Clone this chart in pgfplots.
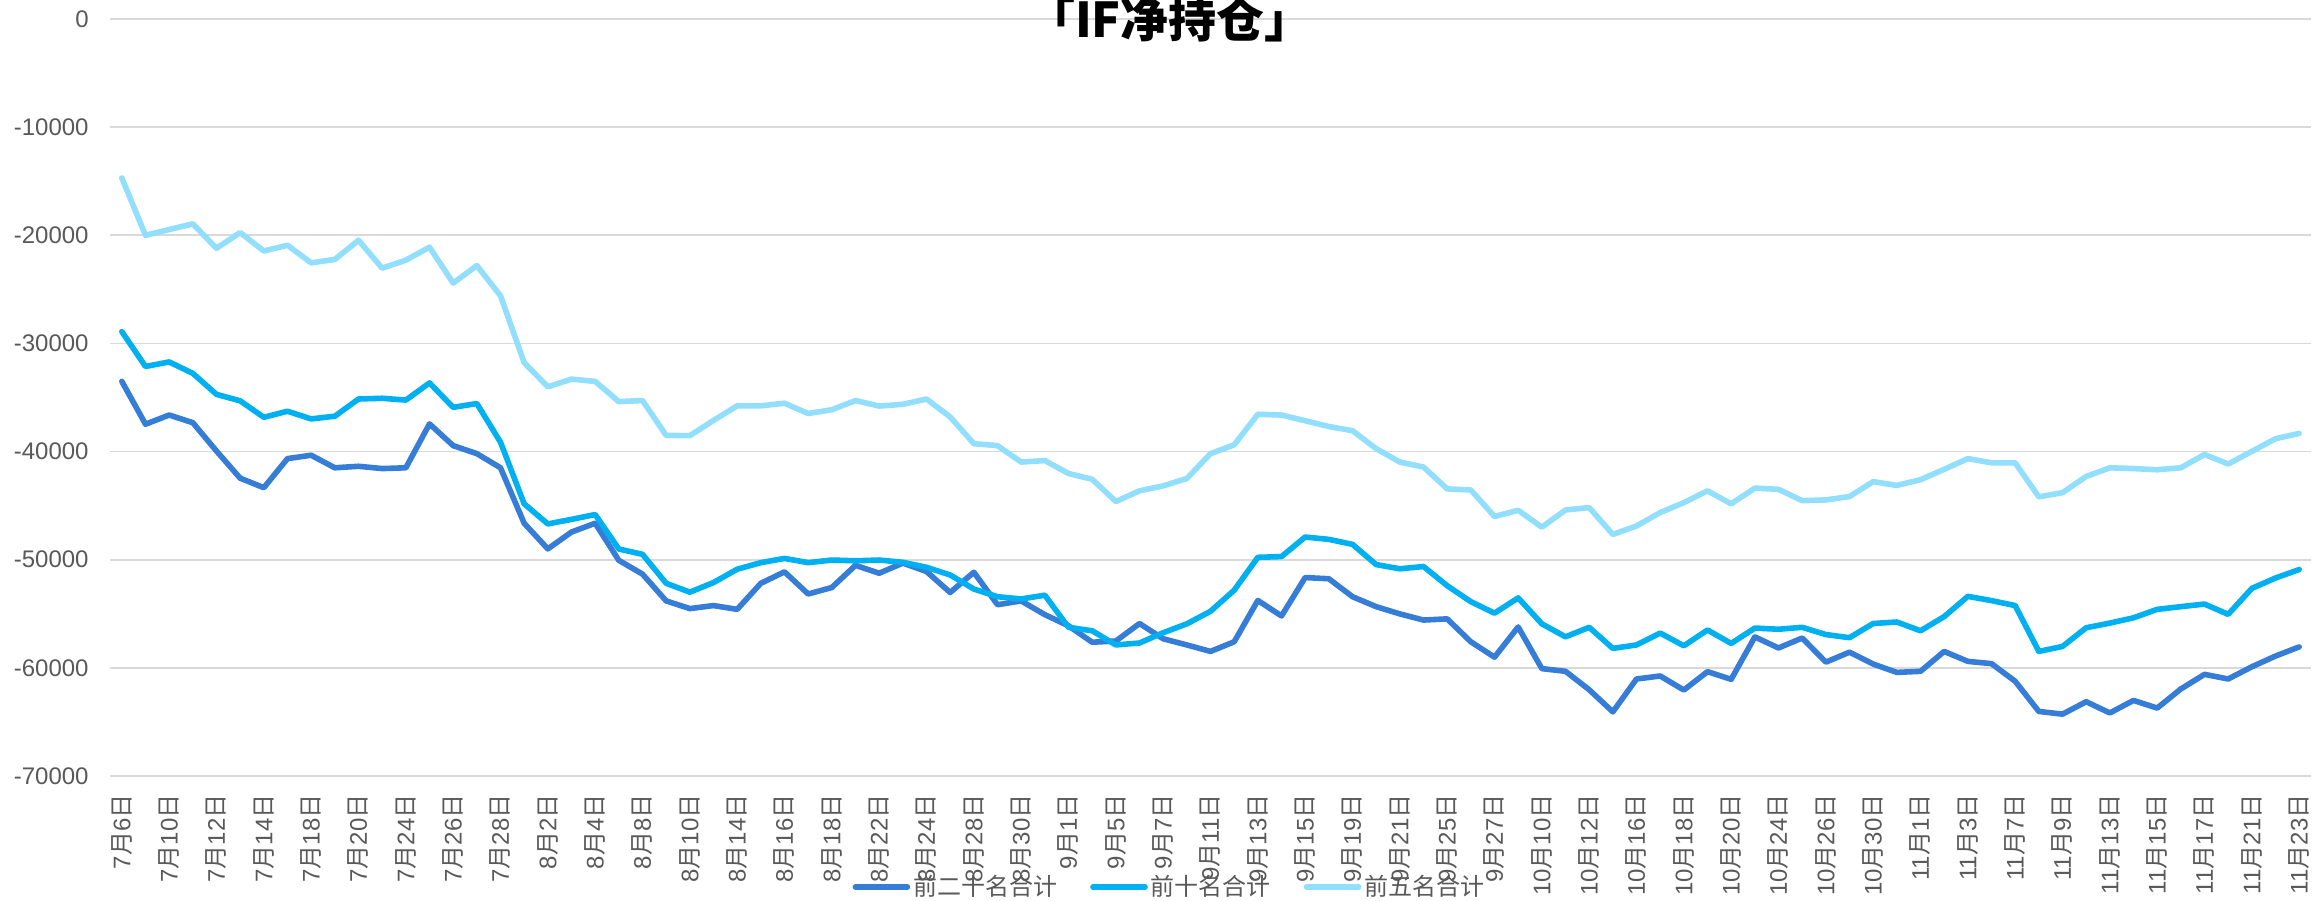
\documentclass[border=0pt]{standalone}
\usepackage{pgfplots}
\usepackage{pgfplotstable}
\pgfplotsset{compat=1.18}
\usepackage{fontspec}
\setmainfont{Liberation Sans}
\newfontfamily\cjk{Noto Sans CJK SC}
\definecolor{cA}{HTML}{367DD7}
\definecolor{cB}{HTML}{00B0F0}
\definecolor{cC}{HTML}{91DFFD}
\definecolor{txtgray}{HTML}{595959}
\definecolor{gridgray}{HTML}{D9D9D9}
\newcommand\md[2]{#1{\cjk 月}#2{\cjk 日}}
\pgfplotstableread{
i d20 d10 d5
0 -33510 -28910 -14700
1 -37470 -32130 -20000
2 -36620 -31710 -19470
3 -37330 -32770 -18940
4 -39950 -34710 -21200
5 -42460 -35310 -19750
6 -43340 -36830 -21450
7 -40650 -36270 -20920
8 -40340 -36980 -22550
9 -41500 -36730 -22230
10 -41360 -35140 -20460
11 -41570 -35070 -23040
12 -41500 -35240 -22300
13 -37440 -33650 -21100
14 -39450 -35910 -24420
15 -40190 -35560 -22800
16 -41500 -39130 -25590
17 -46630 -44830 -31780
18 -49000 -46690 -34010
19 -47440 -46270 -33300
20 -46630 -45820 -33510
21 -50060 -49010 -35380
22 -51330 -49500 -35280
23 -53810 -52180 -38500
24 -54520 -53000 -38530
25 -54240 -52110 -37120
26 -54590 -50880 -35770
27 -52180 -50270 -35770
28 -51120 -49880 -35530
29 -53170 -50270 -36480
30 -52570 -50030 -36130
31 -50520 -50100 -35280
32 -51250 -50030 -35790
33 -50310 -50240 -35630
34 -51090 -50700 -35140
35 -53030 -51410 -36800
36 -51160 -52710 -39270
37 -54160 -53420 -39450
38 -53810 -53630 -40970
39 -55080 -53280 -40830
40 -56110 -56250 -42030
41 -57630 -56570 -42560
42 -57520 -57880 -44620
43 -55900 -57700 -43630
44 -57310 -56750 -43170
45 -57880 -55930 -42490
46 -58480 -54770 -40190
47 -57590 -52820 -39380
48 -53770 -49780 -36550
49 -55200 -49710 -36620
50 -51650 -47900 -37150
51 -51760 -48120 -37680
52 -53420 -48580 -38070
53 -54340 -50450 -39730
54 -55010 -50840 -40970
55 -55580 -50630 -41430
56 -55470 -52400 -43450
57 -57590 -53880 -43550
58 -59010 -54940 -46000
59 -56220 -53530 -45430
60 -60070 -55930 -46990
61 -60320 -57130 -45400
62 -62020 -56250 -45180
63 -64070 -58200 -47660
64 -61030 -57880 -46880
65 -60750 -56780 -45640
66 -62050 -57960 -44720
67 -60350 -56500 -43630
68 -61060 -57740 -44830
69 -57140 -56320 -43380
70 -58160 -56430 -43490
71 -57240 -56250 -44540
72 -59470 -56920 -44470
73 -58550 -57210 -44160
74 -59650 -55900 -42780
75 -60420 -55760 -43130
76 -60320 -56570 -42600
77 -58480 -55260 -41640
78 -59400 -53390 -40650
79 -59610 -53780 -41040
80 -61240 -54240 -41040
81 -64030 -58480 -44190
82 -64280 -58020 -43800
83 -63130 -56290 -42300
84 -64170 -55860 -41500
85 -63010 -55370 -41570
86 -63720 -54590 -41680
87 -61950 -54340 -41500
88 -60600 -54100 -40270
89 -61030 -55050 -41150
90 -59900 -52650 -39980
91 -58910 -51690 -38810
92 -58060 -50910 -38320
}\datatable
\begin{document}
\begin{tikzpicture}
\begin{axis}[
  at={(0,0)}, anchor=south west,
  width=1100.5pt, height=378.5pt, scale only axis,
  xmin=-0.5, xmax=92.5, ymin=-70000, ymax=0,
  axis line style={draw=none},
  major tick length=0pt,
  ymajorgrids, grid style={draw=gridgray, line width=0.8pt},
  ytick={-70000,-60000,-50000,-40000,-30000,-20000,-10000,0},
  yticklabels={-70000,-60000,-50000,-40000,-30000,-20000,-10000,0},
  scaled y ticks=false,
  yticklabel style={anchor=east, inner sep=0pt, text=txtgray, font=\fontsize{12}{12}\selectfont},
  yticklabel shift=10.5pt,
  xtick={0,2,...,92},
  xticklabels={\md{7}{6},\md{7}{10},\md{7}{12},\md{7}{14},\md{7}{18},\md{7}{20},\md{7}{24},\md{7}{26},\md{7}{28},\md{8}{2},\md{8}{4},\md{8}{8},\md{8}{10},\md{8}{14},\md{8}{16},\md{8}{18},\md{8}{22},\md{8}{24},\md{8}{28},\md{8}{30},\md{9}{1},\md{9}{5},\md{9}{7},\md{9}{11},\md{9}{13},\md{9}{15},\md{9}{19},\md{9}{21},\md{9}{25},\md{9}{27},\md{10}{10},\md{10}{12},\md{10}{16},\md{10}{18},\md{10}{20},\md{10}{24},\md{10}{26},\md{10}{30},\md{11}{1},\md{11}{3},\md{11}{7},\md{11}{9},\md{11}{13},\md{11}{15},\md{11}{17},\md{11}{21},\md{11}{23}},
  xticklabel style={rotate=90, anchor=east, inner sep=0pt, text=txtgray, font=\fontsize{12}{12}\selectfont},
  xticklabel shift=9pt,
  legend columns=3,
  legend style={at={(0.4816,-0.1466)}, anchor=center, draw=none, fill=none,
    font=\cjk\fontsize{12}{12}\selectfont, text=txtgray,
    nodes={inner sep=1.5pt},
    /tikz/every even column/.append style={column sep=15pt}},
  legend image code/.code={\draw[#1, line width=2.8pt, line cap=round] (0pt,0pt) -- (26pt,0pt);},
  every axis plot/.append style={line width=2.8pt, line join=round, line cap=round, mark=none},
]
\addplot[cA] table[x=i, y=d20] {\datatable};
\addlegendentry{前二十名合计}
\addplot[cB] table[x=i, y=d10] {\datatable};
\addlegendentry{前十名合计}
\addplot[cC] table[x=i, y=d5] {\datatable};
\addlegendentry{前五名合计}
\end{axis}
\node[anchor=base, font=\cjk\bfseries\fontsize{24}{24}\selectfont, text=black] at (530pt,369pt) {「IF净持仓」};
\pgfresetboundingbox
\path[use as bounding box] (-55pt,-62pt) rectangle (1105.5pt,388pt);
\end{tikzpicture}
\end{document}
